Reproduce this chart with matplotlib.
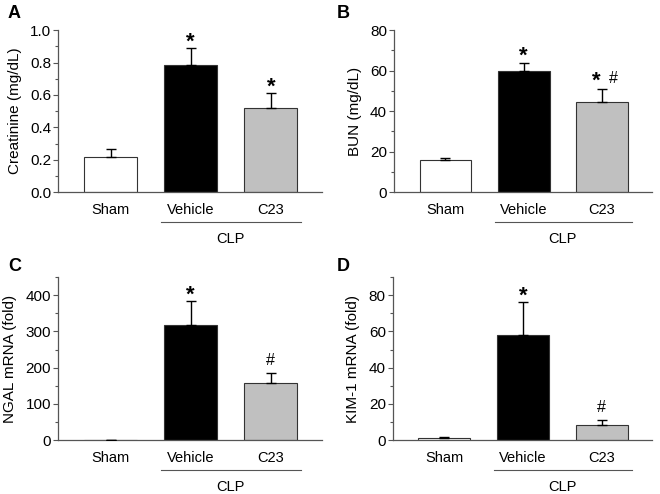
import matplotlib.pyplot as plt
from matplotlib.ticker import MultipleLocator

plt.rcParams['font.family'] = ['Liberation Sans', 'DejaVu Sans']

groups = ['Sham', 'Vehicle', 'C23']
colors = ['white', 'black', '#c0c0c0']

creat = [0.22, 0.784, 0.517]
creat_err = [0.047, 0.103, 0.095]
bun = [15.7, 59.9, 44.3]
bun_err = [1.1, 4.1, 6.7]
ngal = [1.0, 319, 158.5]
ngal_err = [0.3, 65, 27]
kim = [1.2, 58.2, 8.1]
kim_err = [0.3, 17.8, 3.1]

panels = [
    ('A', creat, creat_err, 'Creatinine (mg/dL)', 1.0, 0.2, 0.1, ['', '*', '*'], '{x:.1f}'),
    ('B', bun, bun_err, 'BUN (mg/dL)', 80, 20, 10, ['', '*', '*#'], '{x:.0f}'),
    ('C', ngal, ngal_err, 'NGAL mRNA (fold)', 450, 100, 50, ['', '*', '#'], '{x:.0f}'),
    ('D', kim, kim_err, 'KIM-1 mRNA (fold)', 90, 20, 10, ['', '*', '#'], '{x:.0f}'),
]
rects = [
    [0.088, 0.611, 0.400, 0.328],
    [0.597, 0.611, 0.391, 0.328],
    [0.088, 0.109, 0.400, 0.330],
    [0.595, 0.109, 0.393, 0.330],
]
letter_pos = [(0.012, 0.99), (0.510, 0.99), (0.012, 0.477), (0.510, 0.477)]

fig = plt.figure(figsize=(6.6, 4.94), dpi=100)
x = [0, 1, 2]
for (letter, vals, errs, ylab, ymax, major, minor, marks, fmt), r, lp in zip(panels, rects, letter_pos):
    ax = fig.add_axes(r)
    ax.bar(x, vals, width=0.66, color=colors, edgecolor='#333333', linewidth=0.8, zorder=2)
    ax.errorbar(x, vals, yerr=[[0, 0, 0], errs], fmt='none', ecolor='black',
                elinewidth=1.0, capsize=3.3, capthick=1.0, zorder=3)
    ax.set_xlim(-0.656, 2.64)
    ax.set_ylim(0, ymax)
    ax.yaxis.set_major_locator(MultipleLocator(major))
    ax.yaxis.set_minor_locator(MultipleLocator(minor))
    ax.yaxis.set_major_formatter(fmt)
    for s in ['top', 'right']:
        ax.spines[s].set_visible(False)
    for s in ['left', 'bottom']:
        ax.spines[s].set_color('#555555')
        ax.spines[s].set_linewidth(0.9)
    ax.tick_params(axis='y', which='major', length=3.5, width=0.8, color='#555555',
                   labelsize=11, pad=1.5)
    ax.tick_params(axis='y', which='minor', length=2.5, width=0.8, color='#555555')
    ax.tick_params(axis='x', length=0, labelsize=10.5, pad=8)
    ax.set_xticks(x)
    ax.set_xticklabels(groups)
    ax.set_ylabel(ylab, fontsize=11, labelpad=6)
    for xi, v, e, m in zip(x, vals, errs, marks):
        if m == '*#':
            ax.annotate('*', (xi - 0.075, v + e), xytext=(0, 1.5), textcoords='offset points',
                        ha='center', va='baseline', fontsize=16, fontweight='bold')
            ax.annotate('#', (xi + 0.14, v + e), xytext=(0, 4.5), textcoords='offset points',
                        ha='center', va='baseline', fontsize=11.5)
        elif m == '*':
            ax.annotate('*', (xi, v + e), xytext=(0, 0.5), textcoords='offset points',
                        ha='center', va='baseline', fontsize=16, fontweight='bold')
        elif m == '#':
            ax.annotate('#', (xi, v + e), xytext=(0, 6), textcoords='offset points',
                        ha='center', va='baseline', fontsize=11.5)
    ax.plot([0.63, 2.38], [-0.185, -0.185], color='#555555', linewidth=0.8,
            transform=ax.get_xaxis_transform(), clip_on=False)
    ax.text(1.5, -0.29, 'CLP', ha='center', va='center', fontsize=10.5,
            transform=ax.get_xaxis_transform())
    fig.text(lp[0], lp[1], letter, fontsize=13, fontweight='bold', ha='left', va='top')

fig.savefig('out.png', dpi=100)
